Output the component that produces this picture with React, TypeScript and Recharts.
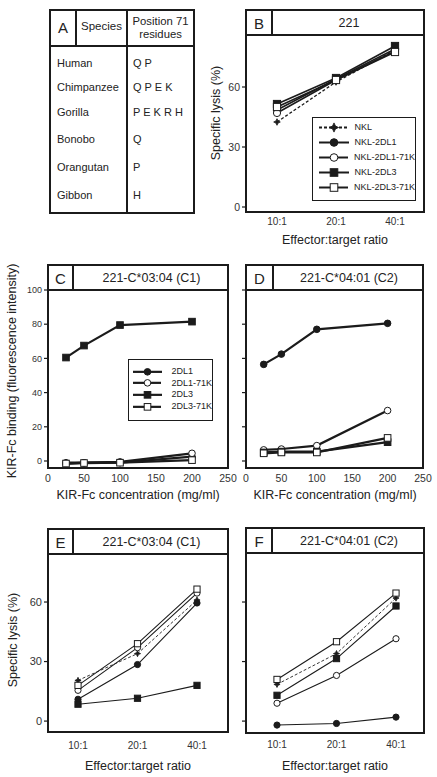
import React from 'react';
import { LineChart, Line, XAxis, YAxis, Legend } from 'recharts';

const FONT = '"Liberation Sans", Arial, Helvetica, sans-serif';
const INK = '#1b1b1b';
const TICK = '#333';

// ---------- Panel A table ----------
const species = ['Human', 'Chimpanzee', 'Gorilla', 'Bonobo', 'Orangutan', 'Gibbon'];
const residues = ['Q P', 'Q P E K', 'P E K R H', 'Q', 'P', 'H'];

// ---------- Panel B ----------
const ratios = ['10:1', '20:1', '40:1'];
const bNKL = [42.5, 62.5, 78.5];
const bDL1 = [48.5, 64, 79];
const bDL1_71K = [47, 63.5, 78];
const bDL3 = [51.5, 64.5, 80.5];
const bDL3_71K = [50, 63.5, 77.5];

// ---------- Panels C / D ----------
const concentrations = [25, 50, 100, 200];
const concTicks = [0, 50, 100, 150, 200, 250];
const bindTicks = [0, 20, 40, 60, 80, 100];
const cDL1 = [-1.5, -1, -1, 2.5];
const cDL1_71K = [-1, -1, -0.5, 4.5];
const cDL3 = [60.5, 67.5, 79.5, 81.5];
const cDL3_71K = [-1.5, -1.2, -1, 0.5];
const dDL1 = [56.5, 62.5, 77, 80.5];
const dDL1_71K = [6.5, 7, 9, 29.5];
const dDL3 = [5, 5.5, 5.5, 11];
const dDL3_71K = [4.5, 5, 5, 13.5];

// ---------- Panels E / F ----------
const lysisTicks = [0, 30, 60];
const eNKL = [20.5, 34, 61];
const eDL1 = [11, 28.5, 59.5];
const eDL1_71K = [15.5, 37, 64.5];
const eDL3 = [8.5, 11.5, 18];
const eDL3_71K = [18, 39, 66.5];
const fNKL = [18.5, 34, 62];
const fDL1 = [-2, -1.2, 2];
const fDL1_71K = [9, 23, 41.5];
const fDL3 = [13, 31.5, 58];
const fDL3_71K = [21, 40, 64.5];

type Kind = 'fc' | 'oc' | 'fs' | 'os' | 'star';
type Series = { key: string; name: string; values: number[]; kind: Kind; dashed?: boolean };

const lysisSeries = (nkl: number[], dl1: number[], dl171: number[], dl3: number[], dl371: number[]): Series[] => [
  { key: 'nkl', name: 'NKL', values: nkl, kind: 'star', dashed: true },
  { key: 'dl1', name: 'NKL-2DL1', values: dl1, kind: 'fc' },
  { key: 'dl171', name: 'NKL-2DL1-71K', values: dl171, kind: 'oc' },
  { key: 'dl3', name: 'NKL-2DL3', values: dl3, kind: 'fs' },
  { key: 'dl371', name: 'NKL-2DL3-71K', values: dl371, kind: 'os' },
];
const bindSeries = (dl1: number[], dl171: number[], dl3: number[], dl371: number[]): Series[] => [
  { key: 'dl1', name: '2DL1', values: dl1, kind: 'fc' },
  { key: 'dl171', name: '2DL1-71K', values: dl171, kind: 'oc' },
  { key: 'dl3', name: '2DL3', values: dl3, kind: 'fs' },
  { key: 'dl371', name: '2DL3-71K', values: dl371, kind: 'os' },
];

function Marker({ kind, cx, cy, s }: { kind: Kind; cx: number; cy: number; s: number }) {
  if (cx == null || cy == null || isNaN(cx) || isNaN(cy)) return <g />;
  switch (kind) {
    case 'fc':
      return <circle cx={cx} cy={cy} r={s} fill={INK} stroke={INK} strokeWidth={1} />;
    case 'oc':
      return <circle cx={cx} cy={cy} r={s} fill="#fff" stroke={INK} strokeWidth={1} />;
    case 'fs':
      return <rect x={cx - s} y={cy - s} width={2 * s} height={2 * s} fill={INK} stroke={INK} strokeWidth={1} />;
    case 'os':
      return <rect x={cx - s} y={cy - s} width={2 * s} height={2 * s} fill="#fff" stroke={INK} strokeWidth={1} />;
    default: {
      const a = s * 1.1;
      const b = s * 0.35;
      const d = `M${cx},${cy - a} L${cx + b},${cy - b} L${cx + a},${cy} L${cx + b},${cy + b} L${cx},${cy + a} L${cx - b},${cy + b} L${cx - a},${cy} L${cx - b},${cy - b} Z`;
      return <path d={d} fill={INK} stroke={INK} strokeWidth={0.8} />;
    }
  }
}

type LegendCfg = {
  left: number; top: number; width: number; height: number;
  padTop: number; padLeft: number; rowH: number; sample: number; gap: number;
  fontSize: number; lineW: number; ms: number; series: Series[];
};

function LegendBox({ cfg }: { cfg: LegendCfg }) {
  return (
    <div
      style={{
        width: cfg.width, height: cfg.height, boxSizing: 'border-box', border: `1.5px solid ${INK}`,
        background: '#fff', paddingTop: cfg.padTop - 1.5, paddingLeft: cfg.padLeft - 1.5, fontFamily: FONT,
      }}
    >
      {cfg.series.map((s) => (
        <div key={s.key} style={{ display: 'flex', alignItems: 'center', height: cfg.rowH }}>
          <svg width={cfg.sample} height={cfg.rowH} style={{ display: 'block' }}>
            <line x1={0} x2={cfg.sample} y1={cfg.rowH / 2} y2={cfg.rowH / 2} stroke={INK} strokeWidth={cfg.lineW}
              strokeDasharray={s.dashed ? '3 2' : undefined} />
            <Marker kind={s.kind} cx={cfg.sample / 2} cy={cfg.rowH / 2} s={s.kind === 'star' ? cfg.ms * 1.1 : cfg.ms} />
          </svg>
          <span style={{ marginLeft: cfg.gap, fontSize: cfg.fontSize, color: '#222', whiteSpace: 'nowrap', lineHeight: 1 }}>{s.name}</span>
        </div>
      ))}
    </div>
  );
}

type PlotProps = {
  L: number; R: number; T: number; B: number;
  category: boolean; xValues: (string | number)[];
  xPad?: { left: number; right: number };
  yDomain: [number, number]; yTicks: number[]; yLabels: boolean; yFont: number;
  xFont: number; xMargin: number; series: Series[]; lineW: number; ms: number; starS: number;
  legend?: LegendCfg;
};

const YW = 40;
const XH = 30;
const MT = 8;
const MR = 14;

function Plot(p: PlotProps) {
  const data = p.xValues.map((x, i) => {
    const row: Record<string, string | number> = { x };
    p.series.forEach((s) => { row[s.key] = s.values[i]; });
    return row;
  });
  const w = p.R - p.L + YW + MR;
  const h = p.B - p.T + XH + MT;
  return (
    <div style={{ position: 'absolute', left: p.L - YW, top: p.T - MT, width: w, height: h }}>
      <LineChart width={w} height={h} data={data} margin={{ top: MT, right: MR, bottom: 0, left: 0 }}>
        {p.category ? (
          <XAxis dataKey="x" type="category" padding={p.xPad} axisLine={false} tickLine={false} tickSize={0}
            tickMargin={p.xMargin} height={XH} interval={0}
            tick={{ fontSize: p.xFont, fill: TICK, fontFamily: FONT }} />
        ) : (
          <XAxis dataKey="x" type="number" domain={[0, 250]} ticks={concTicks} axisLine={false} tickLine={false}
            tickSize={0} tickMargin={p.xMargin} height={XH} interval={0}
            tick={{ fontSize: p.xFont, fill: TICK, fontFamily: FONT }} />
        )}
        <YAxis type="number" domain={p.yDomain} ticks={p.yTicks} width={YW} axisLine={false} interval={0}
          tickLine={{ stroke: INK, strokeWidth: 1.2 }} tickSize={4} tickMargin={2}
          tickFormatter={(v: number) => (p.yLabels ? String(v) : '')}
          tick={{ fontSize: p.yFont, fill: TICK, fontFamily: FONT }} />
        {p.series.map((s) => (
          <Line key={s.key} dataKey={s.key} name={s.name} isAnimationActive={false} stroke={INK}
            strokeWidth={s.dashed ? p.lineW * 0.8 : p.lineW} strokeDasharray={s.dashed ? '3 2' : undefined}
            dot={(d: any) => (
              <Marker key={`${s.key}-${d.index}`} kind={s.kind} cx={d.cx} cy={d.cy} s={s.kind === 'star' ? p.starS : p.ms} />
            )}
            activeDot={false} legendType="none" />
        ))}
        {p.legend && (
          <Legend layout="vertical" align="center" verticalAlign="middle"
            wrapperStyle={{ left: p.legend.left, top: p.legend.top + MT, width: p.legend.width, height: p.legend.height }}
            content={() => <LegendBox cfg={p.legend as LegendCfg} />} />
        )}
      </LineChart>
    </div>
  );
}

function Txt({ x, y, size, children, rotate, weight }: { x: number; y: number; size: number; children: React.ReactNode; rotate?: boolean; weight?: number }) {
  return (
    <div style={{
      position: 'absolute', left: x, top: y, transform: `translate(-50%, -50%)${rotate ? ' rotate(-90deg)' : ''}`,
      fontSize: size, fontFamily: FONT, color: '#222', whiteSpace: 'nowrap', lineHeight: 1, fontWeight: weight,
    }}>{children}</div>
  );
}

function Frame({ L, R, T, HB, B, LD, letter, title }: { L: number; R: number; T: number; HB: number; B: number; LD: number; letter: string; title: string }) {
  return (
    <>
      <div style={{ position: 'absolute', left: L - 1, top: T - 1, width: R - L + 2, height: B - T + 2, border: `2px solid ${INK}`, boxSizing: 'border-box' }} />
      <div style={{ position: 'absolute', left: L, top: HB - 1, width: R - L, height: 2, background: INK }} />
      <div style={{ position: 'absolute', left: LD - 1, top: T, width: 2, height: HB - T, background: INK }} />
      <Txt x={(L + LD) / 2} y={(T + HB) / 2 + 0.5} size={15}>{letter}</Txt>
      <Txt x={(LD + R) / 2 + 1} y={(T + HB) / 2 + 0.5} size={12.5}>{title}</Txt>
    </>
  );
}

function TableA() {
  const L = 50, R = 194, T = 10, B = 213, HB = 46, C1 = 76, C2 = 127;
  const rowY = [63, 87, 112, 139, 167, 195];
  return (
    <>
      <div style={{ position: 'absolute', left: L - 1, top: T - 1, width: R - L + 2, height: B - T + 2, border: `2px solid ${INK}`, boxSizing: 'border-box' }} />
      <div style={{ position: 'absolute', left: L, top: HB - 1, width: R - L, height: 2, background: INK }} />
      <div style={{ position: 'absolute', left: C1 - 1, top: T, width: 2, height: HB - T, background: INK }} />
      <div style={{ position: 'absolute', left: C2 - 1, top: T, width: 2, height: B - T, background: INK }} />
      <Txt x={63} y={27} size={15}>A</Txt>
      <Txt x={101.5} y={27} size={11.5}>Species</Txt>
      <Txt x={160.5} y={22} size={11.3}>Position 71</Txt>
      <Txt x={160.5} y={35} size={11.3}>residues</Txt>
      {species.map((s, i) => (
        <div key={s} style={{ position: 'absolute', left: 57, top: rowY[i], transform: 'translateY(-50%)', fontSize: 11, fontFamily: FONT, color: '#222', lineHeight: 1 }}>{s}</div>
      ))}
      {residues.map((r, i) => (
        <div key={i} style={{ position: 'absolute', left: 133, top: rowY[i], transform: 'translateY(-50%)', fontSize: 11, fontFamily: FONT, color: '#222', lineHeight: 1, whiteSpace: 'pre' }}>{r}</div>
      ))}
    </>
  );
}

export default function App() {
  const bSeries = lysisSeries(bNKL, bDL1, bDL1_71K, bDL3, bDL3_71K);
  const cSeries = bindSeries(cDL1, cDL1_71K, cDL3, cDL3_71K);
  const dSeries = bindSeries(dDL1, dDL1_71K, dDL3, dDL3_71K);
  const eSeries = lysisSeries(eNKL, eDL1, eDL1_71K, eDL3, eDL3_71K);
  const fSeries = lysisSeries(fNKL, fDL1, fDL1_71K, fDL3, fDL3_71K);

  return (
    <div style={{ position: 'absolute', left: 0, top: 0, width: 437, height: 777, background: '#fff', overflow: 'hidden' }}>
      <TableA />

      {/* Panel B */}
      <Plot L={246} R={424} T={35} B={212} category xValues={ratios} xPad={{ left: 31, right: 29 }}
        yDomain={[-2.5, 86]} yTicks={lysisTicks} yLabels yFont={10.5} xFont={10} xMargin={6}
        series={bSeries} lineW={1.6} ms={3.6} starS={3}
        legend={{ left: 106, top: 82, width: 104, height: 84, padTop: 3.5, padLeft: 7, rowH: 15, sample: 30, gap: 6, fontSize: 9, lineW: 2, ms: 3.8, series: bSeries }} />
      <Frame L={246} R={424} T={10} HB={35} B={212} LD={272} letter="B" title="221" />
      <Txt x={216} y={113} size={12.5} rotate>Specific lysis (%)</Txt>
      <Txt x={335} y={240} size={12.5}>Effector:target ratio</Txt>

      {/* Panel D (drawn before C so C's edge tick label stays readable) */}
      <Plot L={246} R={423} T={290} B={468} category={false} xValues={concentrations}
        yDomain={[-4.1, 100]} yTicks={bindTicks} yLabels={false} yFont={9} xFont={10.5} xMargin={7}
        series={dSeries} lineW={2.2} ms={3.3} starS={3} />
      <Frame L={246} R={423} T={265} HB={290} B={468} LD={273} letter="D" title="221-C*04:01 (C2)" />

      {/* Panel C */}
      <Plot L={48} R={228} T={290} B={468} category={false} xValues={concentrations}
        yDomain={[-4.1, 100]} yTicks={bindTicks} yLabels yFont={9} xFont={10.5} xMargin={7}
        series={cSeries} lineW={2.2} ms={3.3} starS={3}
        legend={{ left: 120, top: 69, width: 85, height: 62, padTop: 7, padLeft: 5, rowH: 11.7, sample: 29, gap: 10, fontSize: 9, lineW: 2.2, ms: 3.3, series: cSeries }} />
      <Frame L={48} R={228} T={265} HB={290} B={468} LD={73} letter="C" title="221-C*03:04 (C1)" />

      <Txt x={12} y={371} size={12.5} rotate>KIR-Fc binding (fluorescence intensity)</Txt>
      <Txt x={138} y={495} size={12.5}>KIR-Fc concentration (mg/ml)</Txt>
      <Txt x={335} y={495} size={12.5}>KIR-Fc concentration (mg/ml)</Txt>

      {/* Panel E */}
      <Plot L={48} R={228} T={554} B={732} category xValues={ratios} xPad={{ left: 30, right: 31 }}
        yDomain={[-5.5, 84.2]} yTicks={lysisTicks} yLabels yFont={11} xFont={10} xMargin={10}
        series={eSeries} lineW={1.1} ms={3.1} starS={2.8} />
      <Frame L={48} R={228} T={529} HB={554} B={732} LD={73} letter="E" title="221-C*03:04 (C1)" />
      <Txt x={13} y={640} size={12.5} rotate>Specific lysis (%)</Txt>
      <Txt x={138} y={766} size={12.5}>Effector:target ratio</Txt>

      {/* Panel F */}
      <Plot L={246} R={424} T={553} B={733} category xValues={ratios} xPad={{ left: 31, right: 28 }}
        yDomain={[-6, 84.7]} yTicks={lysisTicks} yLabels={false} yFont={11} xFont={10} xMargin={8}
        series={fSeries} lineW={1.1} ms={3.1} starS={2.8} />
      <Frame L={246} R={424} T={528} HB={553} B={733} LD={272} letter="F" title="221-C*04:01 (C2)" />
      <Txt x={335} y={766} size={12.5}>Effector:target ratio</Txt>
    </div>
  );
}
